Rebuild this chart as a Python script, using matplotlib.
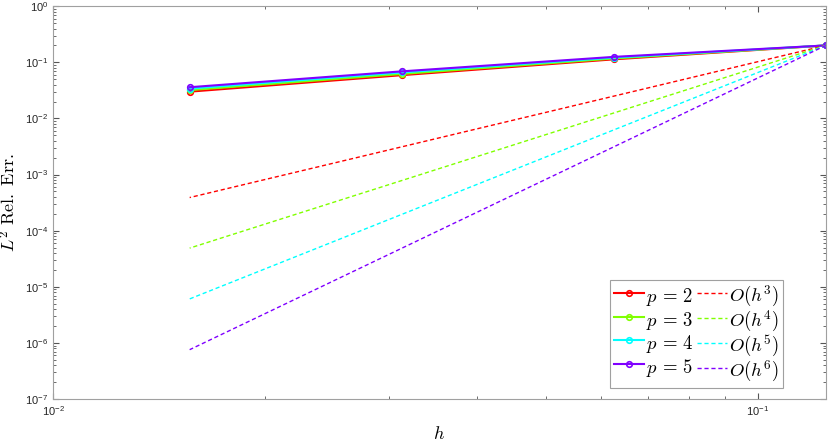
import numpy as np
import matplotlib
matplotlib.use('Agg')
import matplotlib.pyplot as plt

h = [0.125, 0.0625, 0.03125, 0.015625]
err_p2 = [0.200, 0.113, 0.059, 0.030]
err_p3 = [0.200, 0.117, 0.062, 0.032]
err_p4 = [0.200, 0.121, 0.066, 0.034]
err_p5 = [0.200, 0.125, 0.069, 0.036]

# Reference slopes, endpoints only
h_ref = [0.125, 0.015625]
ref_h3 = [0.2, 3.9e-4]
ref_h4 = [0.2, 4.9e-5]
ref_h5 = [0.2, 6.1e-6]
ref_h6 = [0.2, 7.6e-7]

plt.rcParams['mathtext.fontset'] = 'cm'
plt.rcParams['font.family'] = ['Liberation Sans', 'DejaVu Sans']

colors = ['#ff0000', '#80ff00', '#00ffff', '#8000ff']
errs = [err_p2, err_p3, err_p4, err_p5]
refs = [ref_h3, ref_h4, ref_h5, ref_h6]
p_labels = [r'$p\,=\,2$', r'$p\,=\,3$', r'$p\,=\,4$', r'$p\,=\,5$']
ref_labels = [r'$O(h^3)$', r'$O(h^4)$', r'$O(h^5)$', r'$O(h^6)$']

fig = plt.figure(figsize=(8.3, 4.42), dpi=100)
ax = fig.add_axes([0.064, 0.097, 0.931, 0.889])

solid = []
dashed = []
for c, e in zip(colors, errs):
    l1, = ax.loglog(h, e, '-o', color=c, lw=1.5, ms=4, mfc='none', mew=1.2)
    solid.append(l1)
for c, r in zip(colors, refs):
    l2, = ax.loglog(h_ref, r, '--', color=c, lw=1.0, dashes=(3, 2))
    dashed.append(l2)

ax.set_xlim(1e-2, 0.125)
ax.set_ylim(1e-7, 1)

ax.set_xlabel(r'$h$', fontsize=13, labelpad=6)
ax.set_ylabel(r'$L^2\ \mathrm{Rel.\ Err.}$', fontsize=13)

gray = '#262626'
for s in ax.spines.values():
    s.set_color('#a0a0a0')
    s.set_linewidth(0.8)
ax.tick_params(which='both', direction='in', top=True, right=True, colors='#555555',
               labelcolor=gray, labelsize=8)
ax.tick_params(which='major', length=4)
ax.tick_params(which='minor', length=2)

# tall handle boxes so both columns get the same row height
leg = ax.legend(solid + dashed, p_labels + ref_labels, ncol=2, loc='lower right',
                fontsize=13.5, handlelength=1.6, handleheight=1.5, handletextpad=0.1,
                columnspacing=0.2, labelspacing=0.0, borderpad=0.2, borderaxespad=0,
                fancybox=False, framealpha=1, bbox_to_anchor=(0.944, 0.028))
leg.get_frame().set_edgecolor('#a0a0a0')
leg.get_frame().set_linewidth(0.8)

fig.savefig('out.png', dpi=100)
